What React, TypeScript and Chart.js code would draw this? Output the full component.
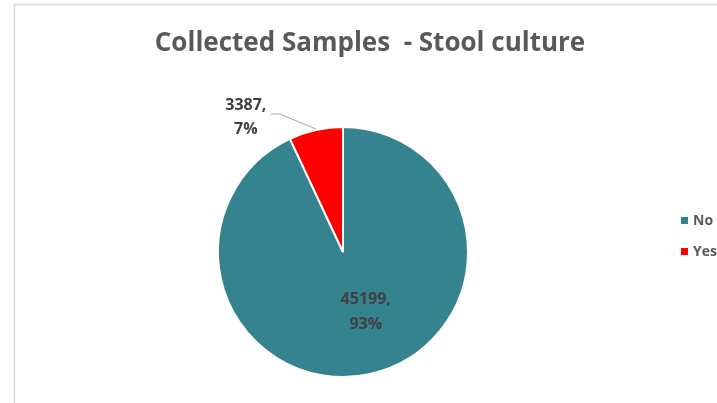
import React, { useEffect, useRef } from "react";
import { Chart, registerables } from "chart.js";

Chart.register(...registerables);

const categories = ["No", "Yes"];
const values = [45199, 3387];
const percentLabels = ["93%", "7%"];
const colors = ["#35838F", "#FF0000"];
const titleText = "Collected Samples  - Stool culture";

const FONT = "'Open Sans', 'Noto Sans', sans-serif";

const decorPlugin = {
  id: "decor",
  beforeDraw(chart: any) {
    const ctx = chart.ctx;
    ctx.save();
    ctx.fillStyle = "#ffffff";
    ctx.fillRect(0, 0, chart.width, chart.height);
    ctx.strokeStyle = "#d9d9d9";
    ctx.lineWidth = 1.5;
    ctx.beginPath();
    ctx.moveTo(14.5, chart.height + 2);
    ctx.lineTo(14.5, 4.5);
    ctx.lineTo(chart.width + 2, 4.5);
    ctx.stroke();
    ctx.restore();
  },
  afterDraw(chart: any) {
    const ctx = chart.ctx;
    ctx.save();
    // title
    ctx.fillStyle = "#595959";
    ctx.font = `bold 26px ${FONT}`;
    ctx.textAlign = "center";
    ctx.textBaseline = "middle";
    ctx.fillText(titleText, 370, 44);

    // legend
    ctx.font = `bold 14px ${FONT}`;
    ctx.textAlign = "left";
    const ly = [221, 252];
    categories.forEach((c, i) => {
      ctx.fillStyle = colors[i];
      ctx.fillRect(681, ly[i] - 4, 7, 7);
      ctx.fillStyle = "#595959";
      ctx.fillText(c, 693, ly[i]);
    });

    // data labels
    const meta = chart.getDatasetMeta(0);
    ctx.font = `bold 16px ${FONT}`;
    ctx.fillStyle = "#404040";
    ctx.textAlign = "center";
    // inside label for first slice
    const a0 = meta.data[0];
    const mid0 = (a0.startAngle + a0.endAngle) / 2;
    const r0 = a0.outerRadius * 0.47;
    const x0 = a0.x + Math.cos(mid0) * r0 + 10;
    const y0 = a0.y + Math.sin(mid0) * r0 + 2;
    ctx.fillText(values[0] + ",", x0, y0 - 12);
    ctx.fillText(percentLabels[0], x0, y0 + 13);

    // outside label for second slice with leader line
    const a1 = meta.data[1];
    const mid1 = (a1.startAngle + a1.endAngle) / 2;
    const ex = a1.x + Math.cos(mid1) * a1.outerRadius;
    const ey = a1.y + Math.sin(mid1) * a1.outerRadius;
    ctx.strokeStyle = "#a6a6a6";
    ctx.lineWidth = 1;
    ctx.beginPath();
    ctx.moveTo(ex, ey - 1);
    ctx.lineTo(ex - 36, ey - 16);
    ctx.lineTo(ex - 45, ey - 16);
    ctx.stroke();
    const lx = ex - 70;
    ctx.fillText(values[1] + ",", lx, ey - 25);
    ctx.fillText(percentLabels[1], lx, ey - 1);
    ctx.restore();
  },
};

export default function App() {
  const ref = useRef<HTMLCanvasElement>(null);
  useEffect(() => {
    document.body.style.margin = "0";
    const chart = new Chart(ref.current!, {
      type: "pie",
      data: {
        labels: categories,
        datasets: [
          {
            data: values,
            backgroundColor: colors,
            borderColor: "#ffffff",
            borderWidth: 2,
          },
        ],
      },
      options: {
        animation: false,
        responsive: false,
        layout: { padding: { left: 217, right: 248, top: 126, bottom: 25 } },
        plugins: {
          legend: { display: false },
          title: { display: false },
          tooltip: { enabled: false },
        },
      },
      plugins: [decorPlugin],
    });
    return () => chart.destroy();
  }, []);
  return (
    <div style={{ width: 717, height: 403 }}>
      <canvas ref={ref} width={717} height={403} />
    </div>
  );
}
